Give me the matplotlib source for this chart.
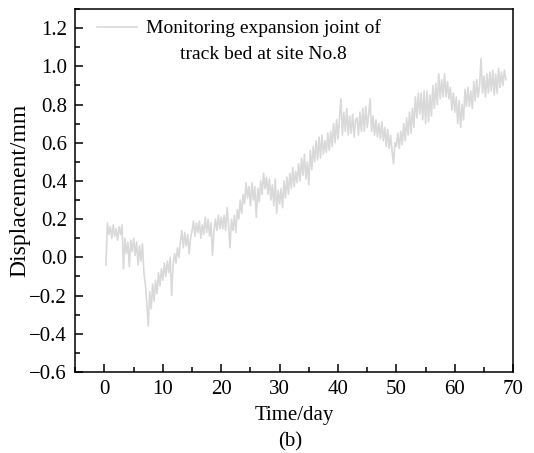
import numpy as np
import matplotlib.pyplot as plt
from matplotlib.ticker import MultipleLocator

plt.rcParams['font.family'] = ['Liberation Serif', 'DejaVu Serif']

# displacement readings, four samples per day (one row per day)
disp = [
    -0.04, 0.18, 0.12, 0.16,
    0.10, 0.17, 0.11, 0.15,
    0.09, 0.16, 0.12, 0.17,
    -0.06, 0.10, 0.02, 0.08,
    -0.05, 0.09, 0.03, 0.10,
    0.01, 0.08, -0.04, 0.06,
    -0.02, 0.07, -0.08, -0.14,
    -0.24, -0.36, -0.18, -0.27,
    -0.14, -0.23, -0.12, -0.19,
    -0.08, -0.15, -0.06, -0.12,
    -0.03, -0.10, -0.02, -0.08,
    0.00, -0.20, -0.04, 0.02,
    -0.03, 0.05, 0.00, 0.08,
    0.14, 0.05, 0.13, 0.06,
    0.12, 0.02, 0.10, 0.14,
    0.19, 0.11, 0.18, 0.13,
    0.19, 0.10, 0.17, 0.12,
    0.21, 0.13, 0.20, 0.11,
    0.18, 0.01, 0.14, 0.20,
    0.14, 0.22, 0.15, 0.21,
    0.15, 0.22, 0.14, 0.26,
    0.17, 0.05, 0.20, 0.14,
    0.22, 0.13, 0.25, 0.20,
    0.30, 0.23, 0.33, 0.28,
    0.39, 0.31, 0.37, 0.27,
    0.39, 0.30, 0.37, 0.21,
    0.36, 0.29, 0.40, 0.33,
    0.44, 0.36, 0.42, 0.33,
    0.41, 0.30, 0.38, 0.27,
    0.41, 0.23, 0.35, 0.28,
    0.36, 0.26, 0.40, 0.31,
    0.42, 0.33, 0.44, 0.36,
    0.47, 0.37, 0.45, 0.39,
    0.49, 0.40, 0.52, 0.43,
    0.54, 0.41, 0.50, 0.38,
    0.56, 0.46, 0.58, 0.50,
    0.61, 0.51, 0.63, 0.52,
    0.64, 0.54, 0.61, 0.55,
    0.65, 0.56, 0.66, 0.58,
    0.70, 0.60, 0.72, 0.62,
    0.73, 0.83, 0.64, 0.76,
    0.66, 0.78, 0.64, 0.74,
    0.65, 0.75, 0.63, 0.72,
    0.73, 0.64, 0.76, 0.66,
    0.78, 0.66, 0.79, 0.68,
    0.75, 0.83, 0.66, 0.74,
    0.64, 0.72, 0.63, 0.70,
    0.62, 0.71, 0.61, 0.68,
    0.58, 0.67, 0.57, 0.64,
    0.56, 0.49, 0.60, 0.58,
    0.65, 0.57, 0.66, 0.59,
    0.70, 0.61, 0.73, 0.64,
    0.76, 0.65, 0.78, 0.68,
    0.84, 0.73, 0.86, 0.75,
    0.86, 0.72, 0.87, 0.70,
    0.87, 0.71, 0.85, 0.74,
    0.90, 0.78, 0.91, 0.80,
    0.96, 0.83, 0.93, 0.84,
    0.96, 0.84, 0.92, 0.83,
    0.89, 0.77, 0.86, 0.76,
    0.84, 0.70, 0.82, 0.68,
    0.80, 0.72, 0.88, 0.79,
    0.89, 0.79, 0.87, 0.78,
    0.92, 0.82, 0.93, 0.84,
    0.90, 1.04, 0.86, 0.95,
    0.84, 0.96, 0.86, 0.97,
    0.87, 0.98, 0.85, 0.96,
    0.86, 0.99, 0.89, 0.97,
    0.90, 0.98, 0.93,
]
days = 0.25 + 0.25 * np.arange(len(disp))

fig = plt.figure(figsize=(5.34, 4.53), dpi=100)
ax = fig.add_axes([0.141, 0.179, 0.820, 0.801])

ax.plot(days, disp, color='#d9d9d9', lw=1.2, label='Monitoring expansion joint of')

ax.set_xlim(-5, 70)
ax.set_ylim(-0.6, 1.3)
ax.xaxis.set_major_locator(MultipleLocator(10))
ax.xaxis.set_minor_locator(MultipleLocator(5))
ax.yaxis.set_major_locator(MultipleLocator(0.2))
ax.yaxis.set_minor_locator(MultipleLocator(0.1))
ax.yaxis.set_major_formatter(lambda v, p: f'{v:.1f}'.replace('-', '\u2212'))
ax.tick_params(which='both', direction='in', top=False, right=False,
               labelsize=15, width=1.1, pad=6)
ax.tick_params(which='major', length=6)
ax.tick_params(which='minor', length=3.5)
for s in ax.spines.values():
    s.set_linewidth(1.1)

ax.set_xlabel('Time/day', fontsize=15, labelpad=5)
ax.set_ylabel('Displacement/mm', fontsize=17, labelpad=-1)
fig.text(0.543, 0.024, '(b)', fontsize=15, ha='center', va='center')

# legend: first line next to the sample line, second line centred below it
leg = ax.legend(loc='upper left', frameon=False, fontsize=14, handlelength=2.05,
                handletextpad=0.45, borderpad=0, borderaxespad=0,
                bbox_to_anchor=(0.0496, 0.971))
ax.annotate('track bed at site No.8', xy=(0.5, 0), xycoords=leg.get_texts()[0],
            xytext=(0, -6), textcoords='offset points', ha='center', va='top',
            fontsize=14, zorder=10)

fig.savefig('out.png', dpi=100)
